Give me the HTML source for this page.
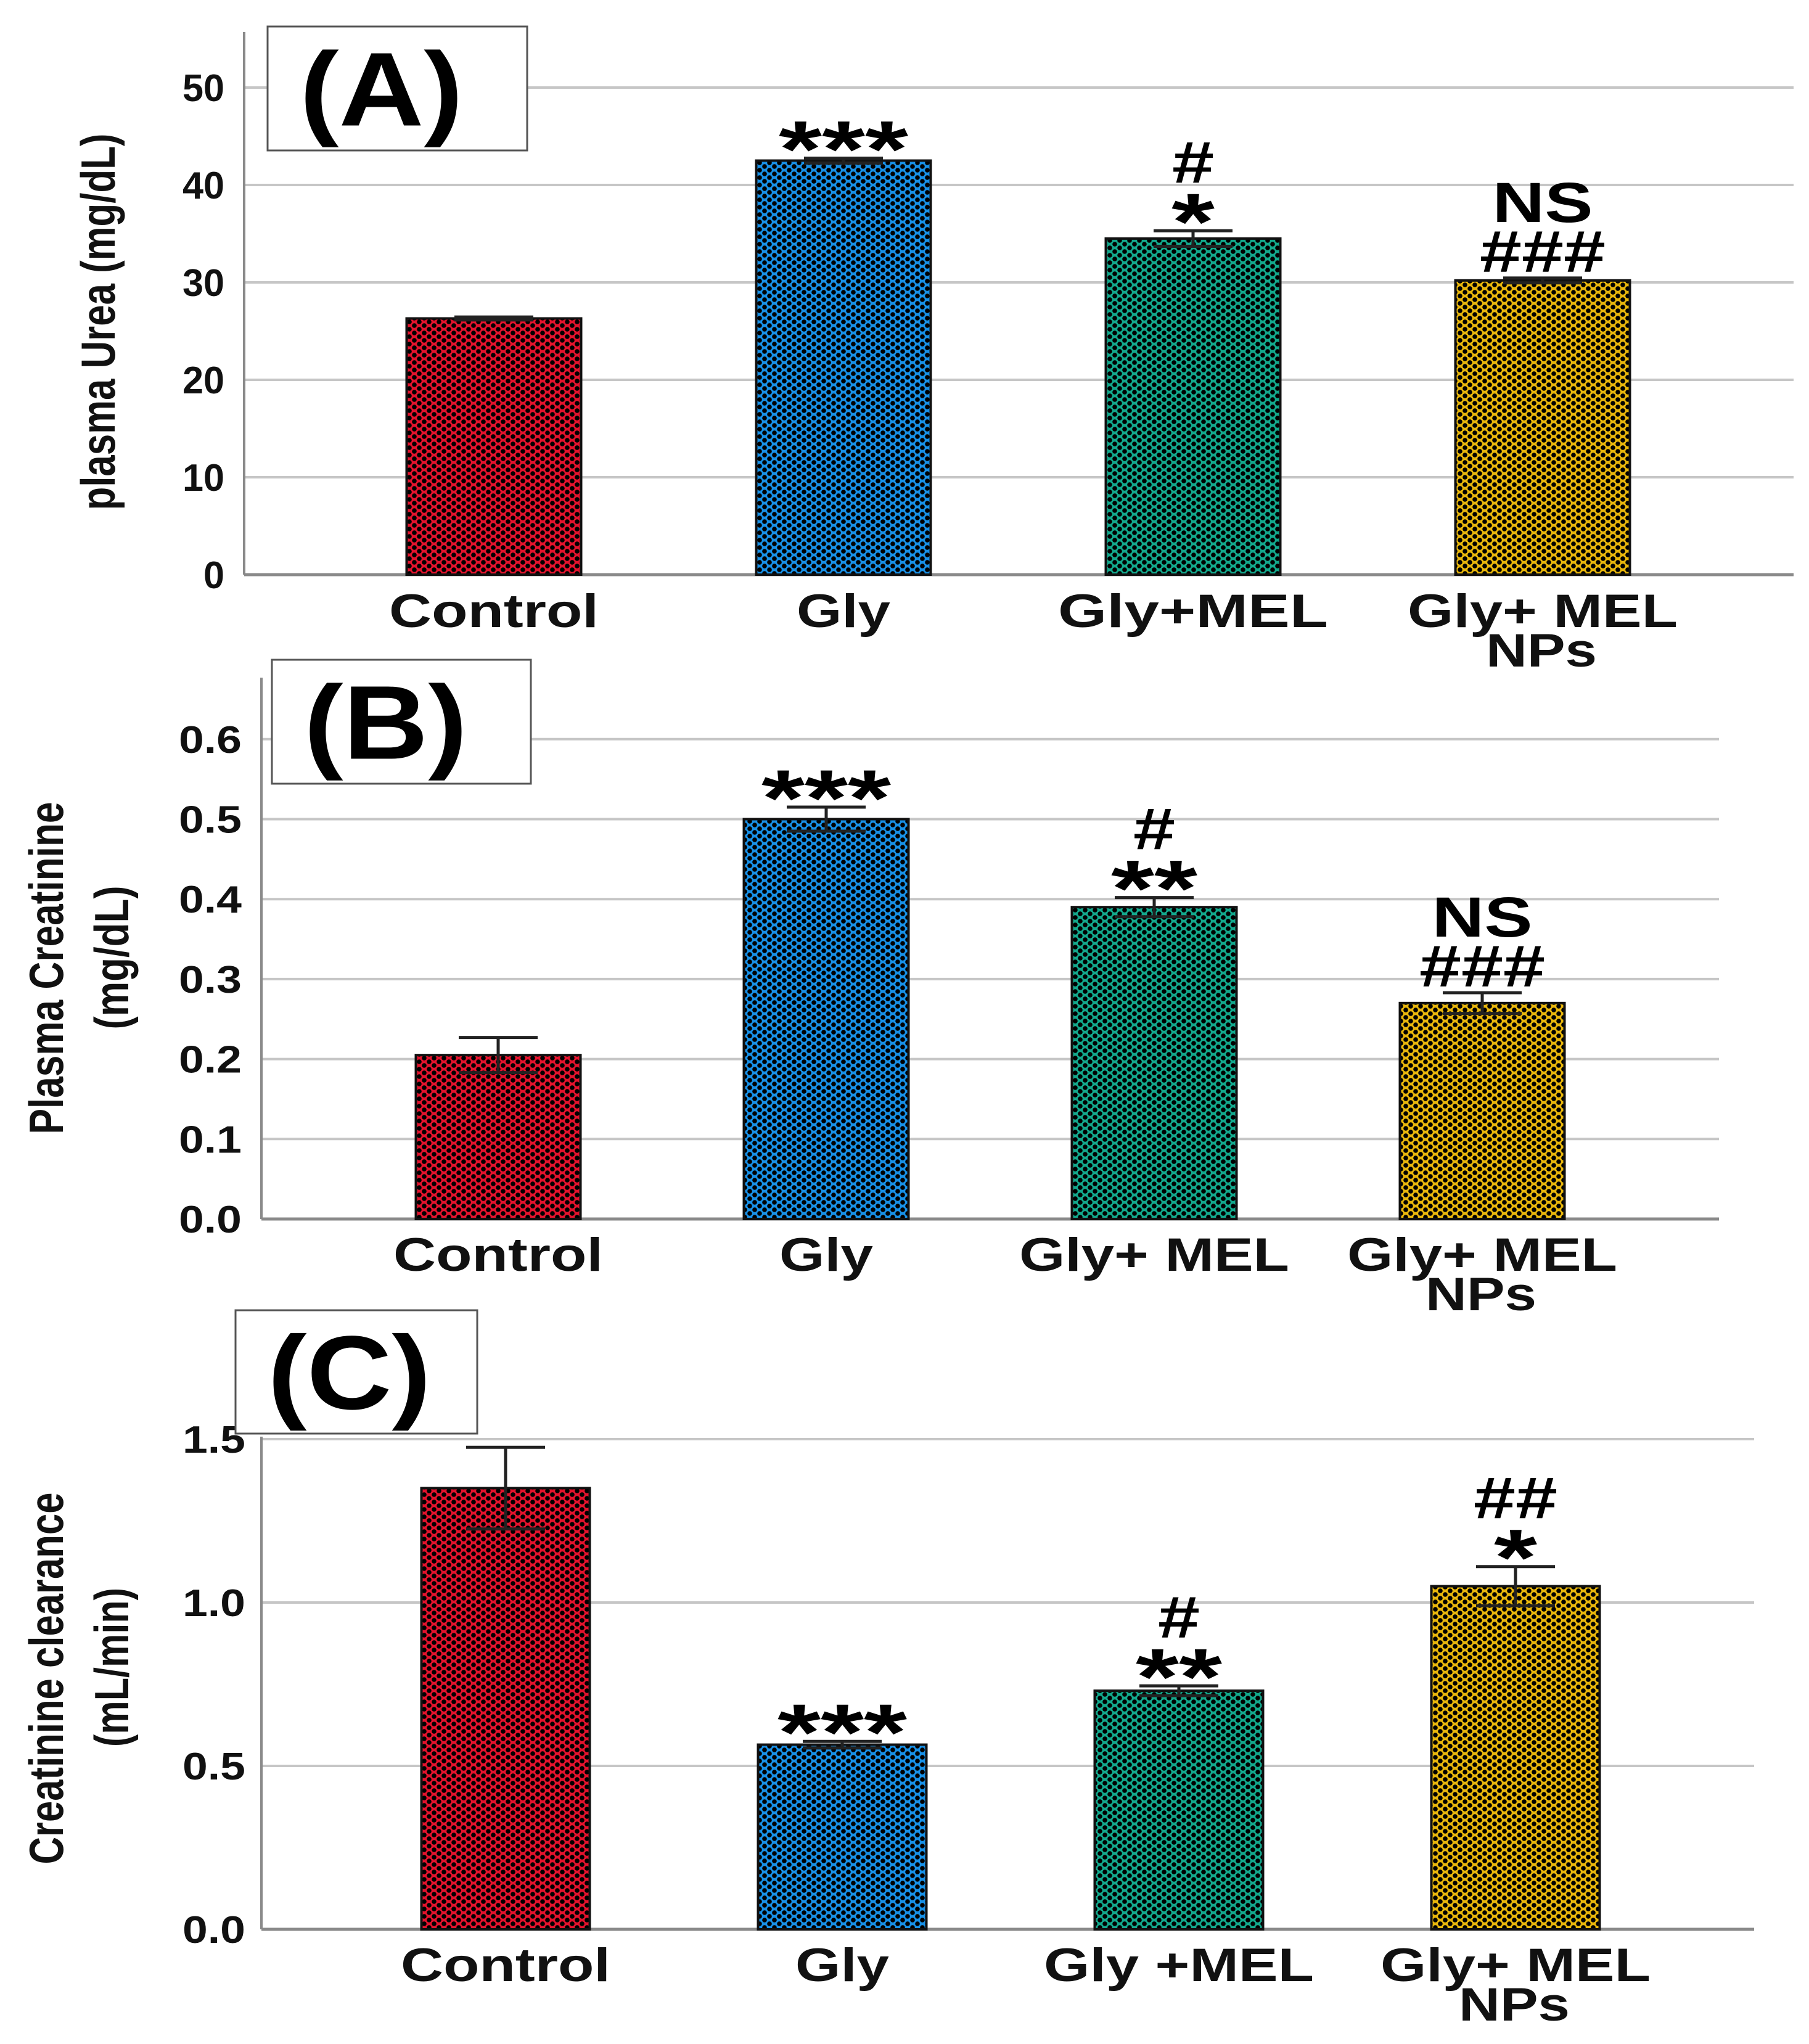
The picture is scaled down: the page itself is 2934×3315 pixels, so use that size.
<!DOCTYPE html>
<html><head><meta charset="utf-8">
<style>
html,body{margin:0;padding:0;background:#fff;}
svg{display:block;}
text{font-family:"Liberation Sans",Arial,sans-serif;}
</style></head>
<body>
<svg id="fig" width="2934" height="3315" viewBox="0 0 2934 3315" xmlns="http://www.w3.org/2000/svg">
<defs>
<pattern id="pRed" width="16" height="12" patternUnits="userSpaceOnUse"><rect width="16" height="12" fill="#e3132d"/><circle cx="0" cy="0" r="3.8" fill="#000"/><circle cx="16" cy="0" r="3.8" fill="#000"/><circle cx="0" cy="12" r="3.8" fill="#000"/><circle cx="16" cy="12" r="3.8" fill="#000"/><circle cx="8" cy="6" r="3.8" fill="#000"/></pattern>
<pattern id="pBlue" width="16" height="12" patternUnits="userSpaceOnUse"><rect width="16" height="12" fill="#1890e6"/><circle cx="0" cy="0" r="3.8" fill="#000"/><circle cx="16" cy="0" r="3.8" fill="#000"/><circle cx="0" cy="12" r="3.8" fill="#000"/><circle cx="16" cy="12" r="3.8" fill="#000"/><circle cx="8" cy="6" r="3.8" fill="#000"/></pattern>
<pattern id="pTeal" width="16" height="12" patternUnits="userSpaceOnUse"><rect width="16" height="12" fill="#13a88c"/><circle cx="0" cy="0" r="3.8" fill="#000"/><circle cx="16" cy="0" r="3.8" fill="#000"/><circle cx="0" cy="12" r="3.8" fill="#000"/><circle cx="16" cy="12" r="3.8" fill="#000"/><circle cx="8" cy="6" r="3.8" fill="#000"/></pattern>
<pattern id="pGold" width="16" height="12" patternUnits="userSpaceOnUse"><rect width="16" height="12" fill="#e8b60c"/><circle cx="0" cy="0" r="3.8" fill="#000"/><circle cx="16" cy="0" r="3.8" fill="#000"/><circle cx="0" cy="12" r="3.8" fill="#000"/><circle cx="16" cy="12" r="3.8" fill="#000"/><circle cx="8" cy="6" r="3.8" fill="#000"/></pattern>
</defs>
</svg>
<script>
// ---- Panel A data ----
const categoriesA = ["Control", "Gly", "Gly+MEL", "Gly+ MEL|NPs"];
const valuesA = [26.3, 42.5, 34.5, 30.2];
const errorsA = [0.15, 0.25, 0.8, 0.25];
const ticksA = [0, 10, 20, 30, 40, 50];
const tickLabelsA = ["0", "10", "20", "30", "40", "50"];
const sigTopA = ["", "", "#", "NS"];
const sigBottomA = ["", "***", "*", "###"];
// ---- Panel B data ----
const categoriesB = ["Control", "Gly", "Gly+ MEL", "Gly+ MEL|NPs"];
const valuesB = [0.205, 0.50, 0.39, 0.27];
const errorsB = [0.022, 0.015, 0.012, 0.013];
const ticksB = [0, 0.1, 0.2, 0.3, 0.4, 0.5, 0.6];
const tickLabelsB = ["0.0", "0.1", "0.2", "0.3", "0.4", "0.5", "0.6"];
const sigTopB = ["", "", "#", "NS"];
const sigBottomB = ["", "***", "**", "###"];
// ---- Panel C data ----
const categoriesC = ["Control", "Gly", "Gly +MEL", "Gly+ MEL|NPs"];
const valuesC = [1.35, 0.565, 0.73, 1.05];
const errorsC = [0.125, 0.01, 0.015, 0.06];
const ticksC = [0, 0.5, 1.0, 1.5];
const tickLabelsC = ["0.0", "0.5", "1.0", "1.5"];
const sigTopC = ["", "", "#", "##"];
const sigBottomC = ["", "***", "**", "*"];

const NS = "http://www.w3.org/2000/svg";
const svg = document.getElementById("fig");
const fills = ["url(#pRed)", "url(#pBlue)", "url(#pTeal)", "url(#pGold)"];

function mk(tag, attrs, parent) {
  const e = document.createElementNS(NS, tag);
  for (const k in attrs) e.setAttribute(k, attrs[k]);
  (parent || svg).appendChild(e);
  return e;
}
function txt(str, attrs, parent, len) {
  const t = mk("text", attrs, parent);
  t.textContent = str;
  if (len) { t.setAttribute("textLength", len); t.setAttribute("lengthAdjust", "spacingAndGlyphs"); }
  return t;
}
function symWidth(s) {
  if (s === "NS") return 163;
  let w = 0;
  for (const c of s) w += (c === "*" ? 70 : 68);
  return w;
}

function panel(p) {
  const g = mk("g", {});
  
  
  const y = v => p.y0 - v * p.pxPerUnit;
  p.ticks.forEach((t, i) => {
    if (t > 0) {
      const gl = mk("line", {x1: p.x0, x2: p.x1, y1: y(t), y2: y(t), stroke: "#c6c6c6", "stroke-width": 4}, g);
      
      
    }
    const tl = txt(p.tickLabels[i], {x: p.tickX, y: y(t) + 22, "font-size": 62, "font-weight": "bold", "text-anchor": "end", fill: "#111"}, g, p.tickLabels[i].length * 34);
    
    
  });
  const ax = mk("line", {x1: p.x0, x2: p.x0, y1: p.yTop, y2: p.y0, stroke: "#8a8a8a", "stroke-width": 4}, g);
  
  
  const bx = mk("line", {x1: p.x0, x2: p.x1, y1: p.y0, y2: p.y0, stroke: "#8a8a8a", "stroke-width": 5}, g);
  
  
  p.values.forEach((v, i) => {
    const cx = p.firstCenter + i * p.step;
    const bar = mk("rect", {x: cx - p.barW / 2, y: y(v), width: p.barW, height: p.y0 - y(v), fill: fills[i], stroke: "#111", "stroke-width": 4}, g);
    
    
    const e = p.errors[i];
    const eb = mk("path", {d: `M${cx - 64},${y(v + e)}H${cx + 64}M${cx},${y(v + e)}V${y(v - e)}M${cx - 64},${y(v - e)}H${cx + 64}`, stroke: "#222", "stroke-width": 5, fill: "none"}, g);
    
    
    const base = y(v + e);
    const b = p.sigBottom[i], tp = p.sigTop[i];
    if (b) {
      const isStar = b.includes("*");
      const center = base - (isStar ? 48 : 44);
      const baseline = isStar ? center + 0.6 * 130 : center + 34;
      const st = txt(b, {x: cx, y: baseline, "font-size": isStar ? 130 : 96, "font-weight": "bold", "text-anchor": "middle", fill: "#000"}, g, symWidth(b));
      
      
      if (tp) {
        const tc = center - (tp === "NS" ? 80 : 64);
        const tt = txt(tp, {x: cx, y: tc + (tp === "NS" ? 33 : 34), "font-size": tp === "NS" ? 92 : 96, "font-weight": "bold", "text-anchor": "middle", fill: "#000"}, g, symWidth(tp));
        
        
      }
    }
    const lines = p.cats[i].split("|");
    lines.forEach((ln, j) => {
      const w = ln.startsWith("Control") ? 340 : ln === "Gly" ? 152 : ln === "NPs" ? 180 : 438;
      const cl = txt(ln, {x: cx + (ln === "NPs" ? -2 : 0), y: p.labelY + j * 64, "font-size": 76, "font-weight": "bold", "text-anchor": "middle", fill: "#111"}, g, w);
      
      
    });
  });
  const box = mk("rect", {x: p.box[0], y: p.box[1], width: p.box[2], height: p.box[3], fill: "#fff", stroke: "#555", "stroke-width": 3}, g);
  
  
  const bl = txt(p.letter, {x: p.box[0] + 52, y: p.box[1] + p.box[3] / 2 + 60, "font-size": 170, "font-weight": "bold", "text-anchor": "start", fill: "#000"}, g, 265);
  
  
  p.titles.forEach(tt => {
    const t = txt(tt.s, {x: 0, y: 0, "font-size": 78, "font-weight": "bold", "text-anchor": "middle", fill: "#111", transform: `translate(${tt.x},${tt.cy}) rotate(-90)`}, g, tt.len);
    
    
  });
}

panel({name: "panel-a-plasma-urea", letter: "(A)", cats: categoriesA, values: valuesA, errors: errorsA,
  ticks: ticksA, tickLabels: tickLabelsA, sigTop: sigTopA, sigBottom: sigBottomA,
  x0: 396, x1: 2909, y0: 932, yTop: 52, pxPerUnit: 15.8, tickX: 364,
  firstCenter: 801, step: 567, barW: 283, labelY: 1017,
  box: [434, 43, 421, 201],
  titles: [{s: "plasma Urea (mg/dL)", x: 186, cy: 522, len: 611}]});

panel({name: "panel-b-plasma-creatinine", letter: "(B)", cats: categoriesB, values: valuesB, errors: errorsB,
  ticks: ticksB, tickLabels: tickLabelsB, sigTop: sigTopB, sigBottom: sigBottomB,
  x0: 424, x1: 2788, y0: 1977, yTop: 1099, pxPerUnit: 1297, tickX: 392,
  firstCenter: 808, step: 532, barW: 267, labelY: 2061,
  box: [441, 1070, 420, 201],
  titles: [{s: "Plasma Creatinine", x: 102, cy: 1570, len: 539}, {s: "(mg/dL)", x: 208, cy: 1553, len: 233}]});

panel({name: "panel-c-creatinine-clearance", letter: "(C)", cats: categoriesC, values: valuesC, errors: errorsC,
  ticks: ticksC, tickLabels: tickLabelsC, sigTop: sigTopC, sigBottom: sigBottomC,
  x0: 424, x1: 2845, y0: 3129, yTop: 2330, pxPerUnit: 530, tickX: 398,
  firstCenter: 820, step: 546, barW: 273, labelY: 3213,
  box: [382, 2125, 392, 200],
  titles: [{s: "Creatinine clearance", x: 102, cy: 2722, len: 603}, {s: "(mL/min)", x: 208, cy: 2704, len: 258}]});
</script>
</body></html>
